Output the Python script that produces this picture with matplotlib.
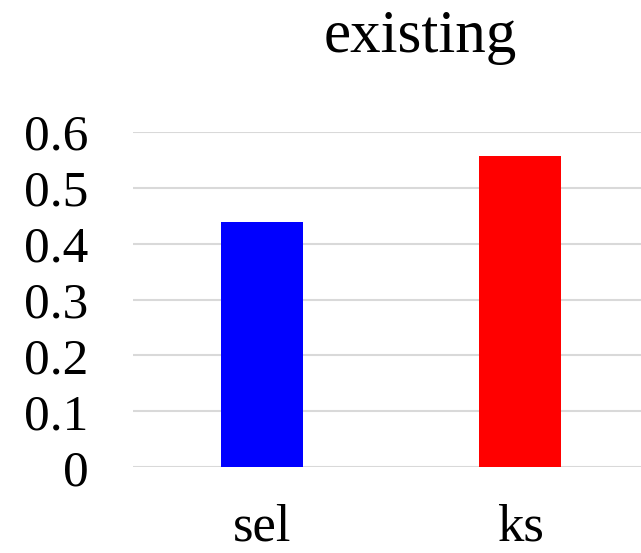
import matplotlib
matplotlib.use("Agg")
import matplotlib.pyplot as plt

categories = ["sel", "ks"]
values = [0.438, 0.556]
colors = ["#0000ff", "#ff0000"]
yticks = [0, 0.1, 0.2, 0.3, 0.4, 0.5, 0.6]
ytick_labels = ["0", "0.1", "0.2", "0.3", "0.4", "0.5", "0.6"]

plt.rcParams["font.family"] = ["Liberation Serif", "DejaVu Serif"]

W, H = 641, 553
fig = plt.figure(figsize=(W / 100, H / 100), dpi=100)
left, right = 133 / W, 649 / W
bottom, top = (H - 467.3) / H, (H - 131.7) / H
ax = fig.add_axes([left, bottom, right - left, top - bottom])

x = list(range(len(categories)))
ax.bar(x, values, width=0.315, color=colors, zorder=3)

ax.set_xlim(-0.5, len(categories) - 0.5)
ax.set_ylim(0, 0.6)
ax.set_yticks(yticks)
ax.set_yticklabels(ytick_labels)
ax.set_xticks(x)
ax.set_xticklabels(categories)

ax.grid(axis="y", color="#d9d9d9", linewidth=1.5, zorder=0)
ax.set_axisbelow(True)
for s in ax.spines.values():
    s.set_visible(False)
ax.tick_params(axis="both", length=0)
ax.tick_params(axis="y", labelsize=37, pad=32)
ax.tick_params(axis="x", labelsize=38, pad=26)

fig.text(420 / W, 1 - 37 / H, "existing", ha="center", va="center", fontsize=44)

fig.savefig("out.png", dpi=100)
